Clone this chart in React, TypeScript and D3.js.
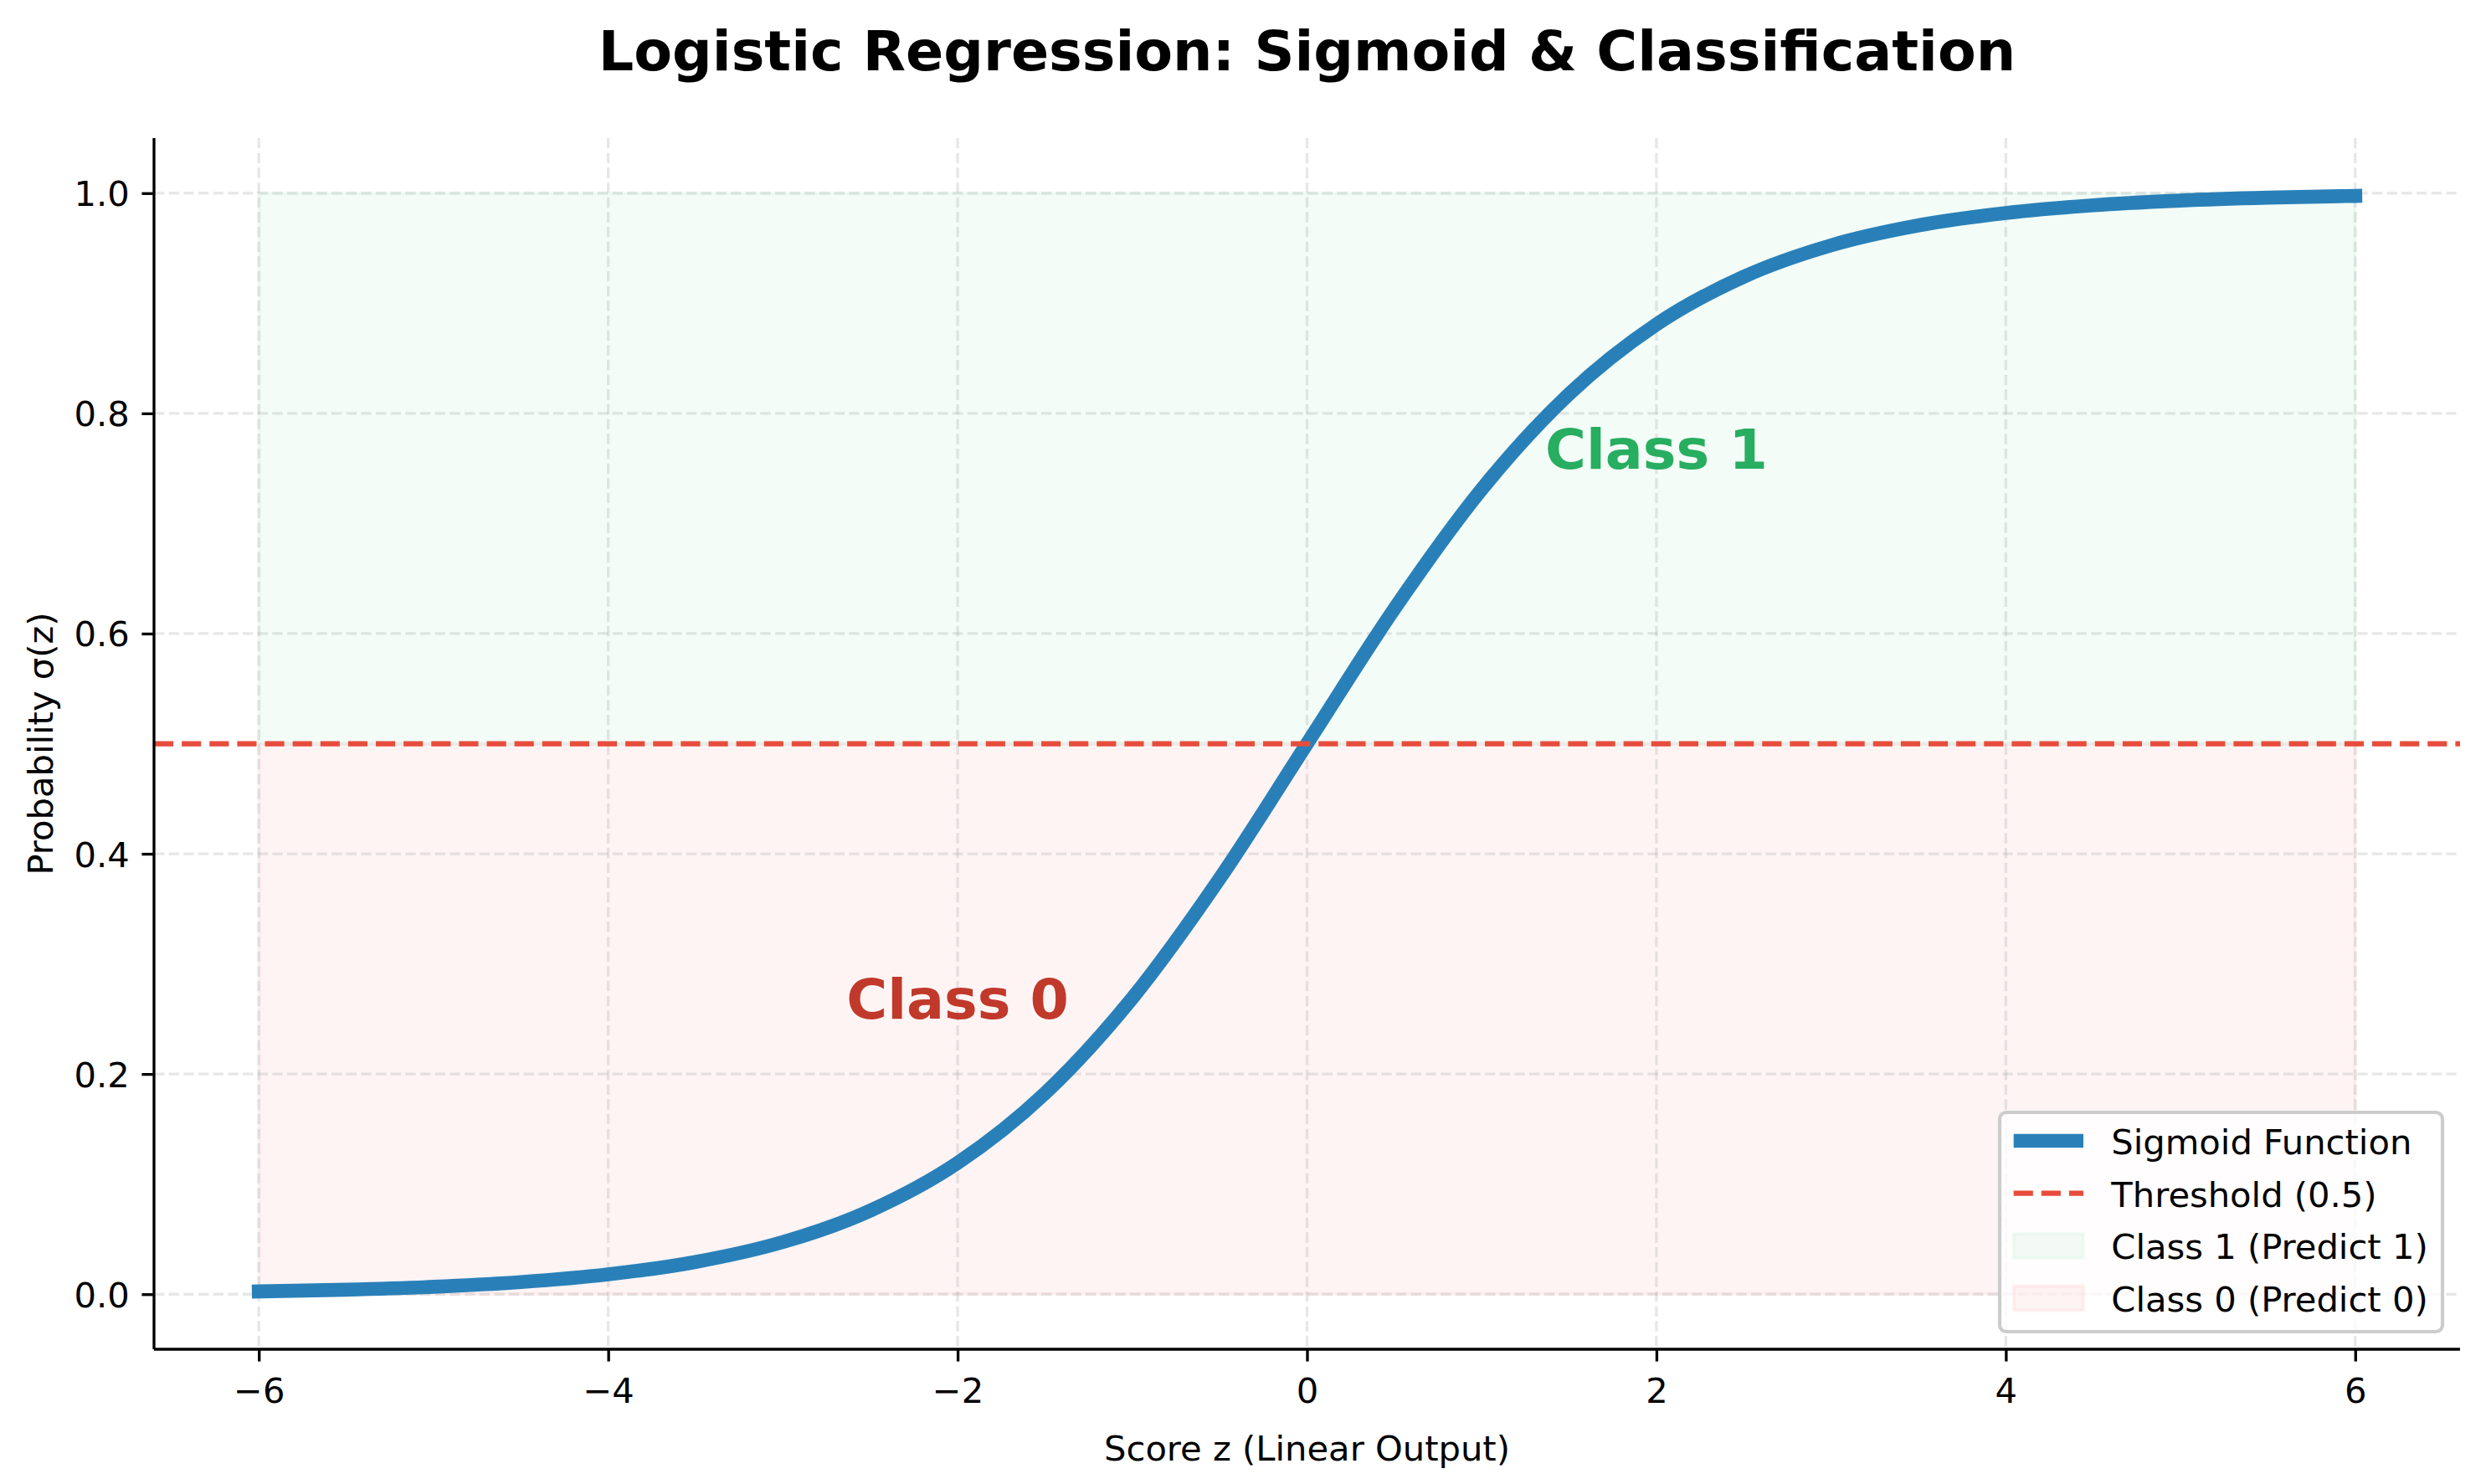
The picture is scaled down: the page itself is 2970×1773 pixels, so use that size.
import { useRef, useEffect } from 'react';
import * as d3 from 'd3';

// sigmoid curve at half-unit steps
const zValues = [-6, -5.5, -5, -4.5, -4, -3.5, -3, -2.5, -2, -1.5, -1, -0.5, 0, 0.5, 1, 1.5, 2, 2.5, 3, 3.5, 4, 4.5, 5, 5.5, 6];
const probValues = [0.0025, 0.0041, 0.0067, 0.011, 0.018, 0.0293, 0.0474, 0.0759, 0.1192, 0.1824, 0.2689, 0.3775, 0.5, 0.6225, 0.7311, 0.8176, 0.8808, 0.9241, 0.9526, 0.9707, 0.982, 0.989, 0.9933, 0.9959, 0.9975];

const xTicks = [-6, -4, -2, 0, 2, 4, 6];
const yTicks = [0, 0.2, 0.4, 0.6, 0.8, 1.0];
const threshold = 0.5;

const regions = [
  { label: 'Class 1 (Predict 1)', x0: -6, x1: 6, y0: 0.5, y1: 1, color: '#2ecc71' },
  { label: 'Class 0 (Predict 0)', x0: -6, x1: 6, y0: 0, y1: 0.5, color: '#e74c3c' },
];

const annotations = [
  { text: 'Class 1', x: 2, y: 0.75, color: '#27ae60' },
  { text: 'Class 0', x: -2, y: 0.25, color: '#c0392b' },
];

const legendItems = [
  { label: 'Sigmoid Function', kind: 'line', color: '#2980b9' },
  { label: 'Threshold (0.5)', kind: 'dash', color: '#e74c3c' },
  { label: 'Class 1 (Predict 1)', kind: 'patch', color: '#2ecc71' },
  { label: 'Class 0 (Predict 0)', kind: 'patch', color: '#e74c3c' },
];

const FONT = '"DejaVu Sans", Verdana, sans-serif';
const PT = 300 / 72;

const App = () => {
  const svgRef = useRef<SVGSVGElement>(null);

  useEffect(() => {
    if (!svgRef.current) return;
    const width = 2970;
    const height = 1773;
    const margin = { top: 165, right: 31, bottom: 161, left: 184 };
    const left = margin.left;
    const right = width - margin.right;
    const top = margin.top;
    const bottom = height - margin.bottom;

    const svg = d3.select(svgRef.current)
      .attr('width', width)
      .attr('height', height)
      .attr('viewBox', `0 0 ${width} ${height}`);

    svg.selectAll('*').remove();

    svg.append('rect').attr('width', width).attr('height', height).attr('fill', '#fff');

    const x = d3.scaleLinear().domain([-6.6, 6.6]).range([left, right]);
    const y = d3.scaleLinear().domain([-0.05, 1.05]).range([bottom, top]);

    const data = zValues.map((z, i) => ({ z, p: probValues[i] }));

    // shaded decision regions
    svg.append('g')
      .selectAll('rect')
      .data(regions)
      .join('rect')
      .attr('x', d => x(d.x0))
      .attr('y', d => y(d.y1))
      .attr('width', d => x(d.x1) - x(d.x0))
      .attr('height', d => y(d.y0) - y(d.y1))
      .attr('fill', d => d.color)
      .attr('fill-opacity', 0.06)
      .attr('stroke', d => d.color)
      .attr('stroke-opacity', 0.06)
      .attr('stroke-width', PT);

    // grid
    const grid = svg.append('g')
      .attr('stroke', '#b0b0b0')
      .attr('stroke-opacity', 0.3)
      .attr('stroke-width', 0.8 * PT)
      .attr('stroke-dasharray', `${3.7 * 0.8 * PT} ${1.6 * 0.8 * PT}`);

    grid.selectAll('.gx')
      .data(xTicks)
      .join('line')
      .attr('x1', d => x(d)).attr('x2', d => x(d))
      .attr('y1', top).attr('y2', bottom);

    grid.selectAll('.gy')
      .data(yTicks)
      .join('line')
      .attr('class', 'gy')
      .attr('x1', left).attr('x2', right)
      .attr('y1', d => y(d)).attr('y2', d => y(d));

    // sigmoid
    const line = d3.line<{ z: number; p: number }>()
      .x(d => x(d.z))
      .y(d => y(d.p))
      .curve(d3.curveMonotoneX);

    svg.append('path')
      .datum(data)
      .attr('fill', 'none')
      .attr('stroke', '#2980b9')
      .attr('stroke-width', 4 * PT)
      .attr('stroke-linecap', 'square')
      .attr('stroke-linejoin', 'round')
      .attr('d', line);

    // threshold
    svg.append('line')
      .attr('x1', left).attr('x2', right)
      .attr('y1', y(threshold)).attr('y2', y(threshold))
      .attr('stroke', '#e74c3c')
      .attr('stroke-width', 1.5 * PT)
      .attr('stroke-dasharray', `${3.7 * 1.5 * PT} ${1.6 * 1.5 * PT}`);

    // axes
    const xAxis = svg.append('g')
      .attr('transform', `translate(0,${bottom})`)
      .call(d3.axisBottom(x).tickValues(xTicks).tickSize(3.5 * PT).tickPadding(3.5 * PT)
        .tickFormat(d => d3.format('d')(d as number).replace('-', '\u2212')));
    xAxis.select('.domain').attr('stroke-width', 0.8 * PT).attr('d', `M${left},0H${right}`);
    xAxis.selectAll('.tick line').attr('stroke-width', 0.8 * PT);
    xAxis.selectAll('.tick text')
      .attr('y', null).attr('dy', null)
      .attr('transform', 'translate(0,64)')
      .attr('font-size', 10 * PT).attr('font-family', FONT).attr('fill', '#000');

    const yAxis = svg.append('g')
      .attr('transform', `translate(${left},0)`)
      .call(d3.axisLeft(y).tickValues(yTicks).tickSize(3.5 * PT).tickPadding(3.5 * PT)
        .tickFormat(d3.format('.1f')));
    yAxis.select('.domain').attr('stroke-width', 0.8 * PT).attr('d', `M0,${bottom}V${top}`);
    yAxis.selectAll('.tick line').attr('stroke-width', 0.8 * PT);
    yAxis.selectAll('.tick text')
      .attr('dy', null)
      .attr('transform', 'translate(0,15)')
      .attr('font-size', 10 * PT).attr('font-family', FONT).attr('fill', '#000');
    svg.selectAll('.domain').attr('stroke', '#000');

    // class annotations
    svg.append('g')
      .selectAll('text')
      .data(annotations)
      .join('text')
      .attr('x', d => x(d.x))
      .attr('y', d => y(d.y))
      .attr('text-anchor', 'middle')
      .attr('font-family', FONT)
      .attr('font-weight', 'bold')
      .attr('font-size', 16 * PT)
      .attr('fill', d => d.color)
      .text(d => d.text);

    // labels & title
    svg.append('text')
      .attr('x', (left + right) / 2).attr('y', 1745)
      .attr('text-anchor', 'middle')
      .attr('font-family', FONT).attr('font-size', 10 * PT)
      .text('Score z (Linear Output)');

    svg.append('text')
      .attr('transform', `translate(63,${(top + bottom) / 2}) rotate(-90)`)
      .attr('text-anchor', 'middle')
      .attr('font-family', FONT).attr('font-size', 10 * PT)
      .text('Probability σ(z)');

    svg.append('text')
      .attr('x', (left + right) / 2).attr('y', 84)
      .attr('text-anchor', 'middle')
      .attr('font-family', FONT).attr('font-weight', 'bold').attr('font-size', 16 * PT)
      .text('Logistic Regression: Sigmoid & Classification');

    // legend
    const lg = { x: 2389, y: 1329, w: 529, h: 262, row0: 1363, step: 62.7 };
    const legend = svg.append('g');
    legend.append('rect')
      .attr('x', lg.x).attr('y', lg.y).attr('width', lg.w).attr('height', lg.h)
      .attr('rx', 8).attr('ry', 8)
      .attr('fill', '#fff').attr('fill-opacity', 0.8)
      .attr('stroke', '#cccccc').attr('stroke-width', PT);

    const hx0 = lg.x + 0.4 * 10 * PT;
    const hx1 = hx0 + 2 * 10 * PT;
    const rows = legend.selectAll('.row')
      .data(legendItems)
      .join('g')
      .attr('transform', (_, i) => `translate(0,${lg.row0 + i * lg.step})`);

    rows.filter(d => d.kind !== 'patch')
      .append('line')
      .attr('x1', hx0).attr('x2', hx1)
      .attr('stroke', d => d.color)
      .attr('stroke-width', d => (d.kind === 'line' ? 4 : 1.5) * PT)
      .attr('stroke-dasharray', d => d.kind === 'dash' ? `${3.7 * 1.5 * PT} ${1.6 * 1.5 * PT}` : null);

    rows.filter(d => d.kind === 'patch')
      .append('rect')
      .attr('x', hx0).attr('y', -0.35 * 10 * PT)
      .attr('width', hx1 - hx0).attr('height', 0.7 * 10 * PT)
      .attr('fill', d => d.color).attr('fill-opacity', 0.06)
      .attr('stroke', d => d.color).attr('stroke-opacity', 0.06)
      .attr('stroke-width', PT);

    rows.append('text')
      .attr('x', hx1 + 0.8 * 10 * PT)
      .attr('y', 16)
      .attr('font-family', FONT).attr('font-size', 10 * PT)
      .text(d => d.label);

    return () => { svg.selectAll('*').remove(); };
  }, []);

  return (
    <div style={{ position: 'absolute', left: 0, top: 0 }}>
      <svg ref={svgRef} style={{ display: 'block' }} />
    </div>
  );
};

export default App;
